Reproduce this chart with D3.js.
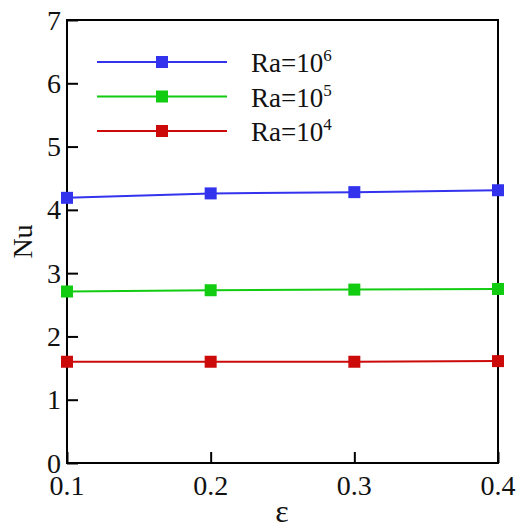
<!DOCTYPE html>
<html><head><meta charset="utf-8">
<script src="https://cdn.jsdelivr.net/npm/d3@7"></script>
<style>body{margin:0;background:#fff}svg{display:block}</style>
</head><body>
<svg id="c" width="523" height="529" font-family="'Liberation Serif', 'DejaVu Serif', serif"></svg>
<script>
const eps = [0.1, 0.2, 0.3, 0.4];
const nuRa6 = [4.19, 4.26, 4.28, 4.31];
const nuRa5 = [2.71, 2.73, 2.74, 2.75];
const nuRa4 = [1.60, 1.60, 1.60, 1.61];
const seriesNames = ["6", "5", "4"];
const seriesColors = ["#3333ee", "#11cc11", "#cc0a0a"];
const xTicks = [0.1, 0.2, 0.3, 0.4];
const yTicks = [0, 1, 2, 3, 4, 5, 6, 7];

const series = [nuRa6, nuRa5, nuRa4];
const svg = d3.select("#c");
const FF = "'Liberation Serif', 'DejaVu Serif', serif";
const L = 67, R = 498, T = 20, B = 463;
const x = d3.scaleLinear().domain([0.1, 0.4]).range([L, R]);
const y = d3.scaleLinear().domain([0, 7]).range([B, T]);

svg.append("rect").attr("x", L).attr("y", T).attr("width", R - L).attr("height", B - T)
  .attr("fill", "none").attr("stroke", "#000").attr("stroke-width", 2);

const yMinor = d3.range(0, 7.0001, 0.2).map(v => +v.toFixed(2));
const ya = svg.append("g").attr("transform", `translate(${L},0)`);
ya.call(d3.axisRight(y).tickValues(yMinor).tickSize(6).tickFormat(""))
  .call(g => g.select(".domain").remove())
  .call(g => g.selectAll("line").attr("stroke", "#333").attr("stroke-width", 1));
ya.call(d3.axisRight(y).tickValues(yTicks).tickSize(11).tickFormat(""))
  .call(g => g.select(".domain").remove())
  .call(g => g.selectAll("line").attr("stroke", "#000").attr("stroke-width", 2));
yTicks.forEach(v => {
  svg.append("text").attr("x", L - 6).attr("y", y(v)).attr("dy", "0.34em")
    .attr("font-family", FF).attr("fill", "#111")
    .attr("text-anchor", "end").attr("font-size", 28).text(v);
});

const xMinor = d3.range(0.1, 0.40001, 0.02).map(v => +v.toFixed(3));
const xa = svg.append("g").attr("transform", `translate(0,${B})`);
xa.call(d3.axisTop(x).tickValues(xMinor).tickSize(5).tickFormat(""))
  .call(g => g.select(".domain").remove())
  .call(g => g.selectAll("line").attr("stroke", "#333").attr("stroke-width", 1));
xa.call(d3.axisTop(x).tickValues(xTicks).tickSize(11).tickFormat(""))
  .call(g => g.select(".domain").remove())
  .call(g => g.selectAll("line").attr("stroke", "#000").attr("stroke-width", 2));
xTicks.forEach(v => {
  svg.append("text").attr("x", x(v)).attr("y", 495)
    .attr("font-family", FF).attr("fill", "#111")
    .attr("text-anchor", "middle").attr("font-size", 28).text(v.toFixed(1));
});

svg.append("text").attr("transform", `translate(32,${(T + B) / 2}) rotate(-90)`)
  .attr("font-family", FF).attr("fill", "#111")
  .attr("text-anchor", "middle").attr("font-size", 28).text("Nu");
svg.append("text").attr("x", 282).attr("y", 522).attr("text-anchor", "middle")
  .attr("font-family", FF).attr("fill", "#111")
  .attr("font-size", 32).text("ε");

const line = d3.line().x((d, i) => x(eps[i])).y(d => y(d));
series.forEach((s, k) => {
  svg.append("path").datum(s).attr("d", line).attr("fill", "none")
    .attr("stroke", seriesColors[k]).attr("stroke-width", 2);
  svg.selectAll(null).data(s).enter().append("rect")
    .attr("x", (d, i) => x(eps[i]) - 6).attr("y", d => y(d) - 6)
    .attr("width", 12).attr("height", 12).attr("fill", seriesColors[k]);
});

const legY = [62, 96.5, 131];
seriesNames.forEach((n, k) => {
  const g = svg.append("g");
  g.append("line").attr("x1", 97).attr("x2", 227).attr("y1", legY[k]).attr("y2", legY[k])
    .attr("stroke", seriesColors[k]).attr("stroke-width", 2);
  g.append("rect").attr("x", 156).attr("y", legY[k] - 6).attr("width", 12).attr("height", 12)
    .attr("fill", seriesColors[k]);
  const t = g.append("text").attr("x", 251).attr("y", legY[k] + 10).attr("font-size", 27)
    .attr("font-family", FF).attr("fill", "#111");
  t.append("tspan").text("Ra=10");
  t.append("tspan").attr("dy", -11).attr("font-size", 17).text(n);
});
</script>
</body></html>
